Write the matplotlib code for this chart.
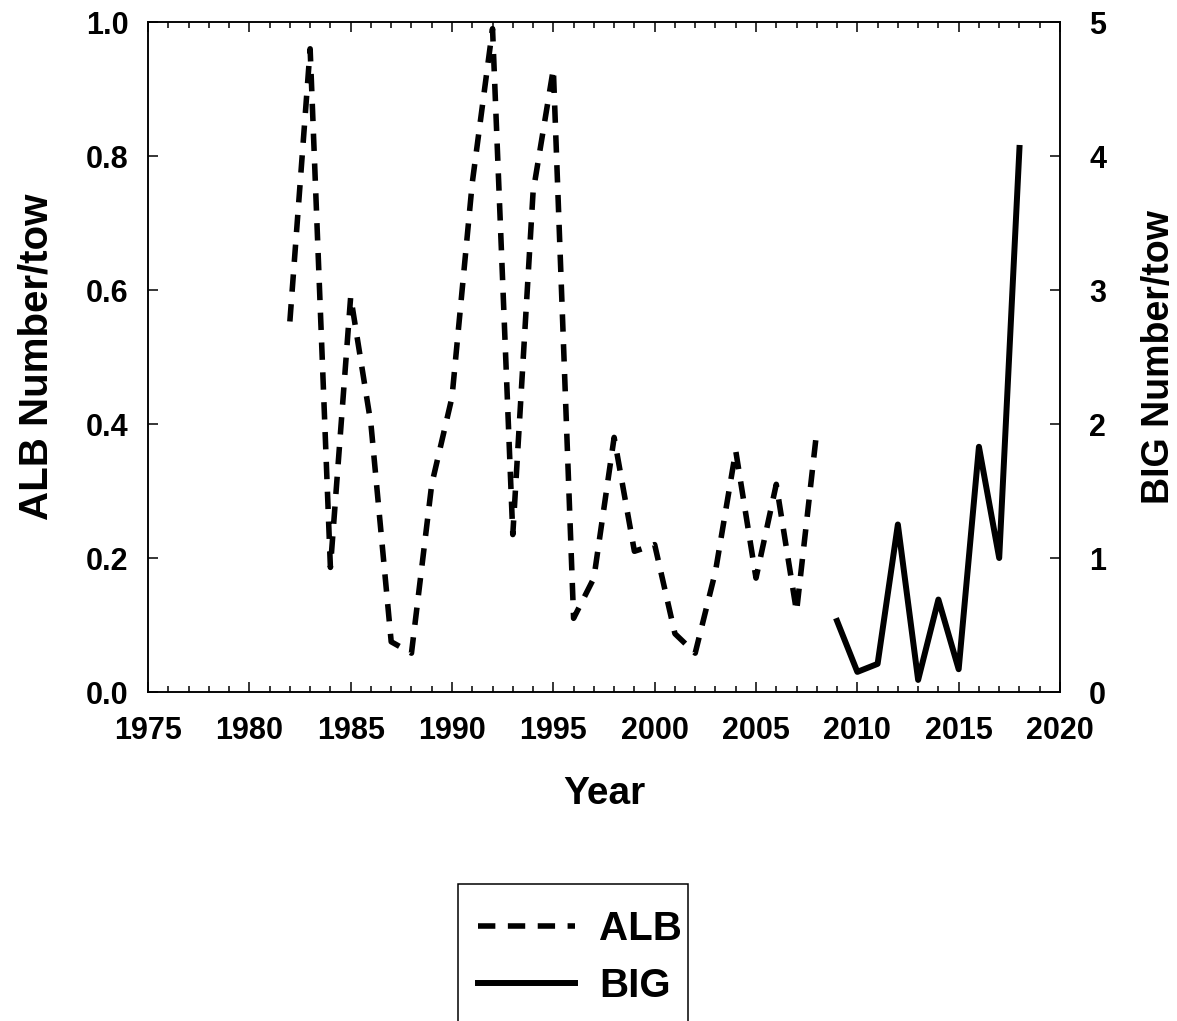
import numpy as np
import matplotlib
matplotlib.use("Agg")
import matplotlib.pyplot as plt
from matplotlib.ticker import MultipleLocator
from matplotlib.patches import Rectangle

plt.rcParams['font.family'] = ['Liberation Sans', 'DejaVu Sans']
plt.rcParams['font.weight'] = 'bold'
plt.rcParams['axes.labelweight'] = 'bold'
plt.rcParams['lines.scale_dashes'] = False

# ALB series (left axis)
alb_years = np.arange(1982, 2009)
alb_vals = [0.553, 0.96, 0.186, 0.59, 0.40, 0.075, 0.058, 0.31, 0.44, 0.76,
            0.99, 0.235, 0.746, 0.93, 0.11, 0.17, 0.38, 0.21, 0.22, 0.087,
            0.058, 0.18, 0.36, 0.17, 0.31, 0.12, 0.39]

# BIG series (right axis)
big_years = np.arange(2009, 2019)
big_vals = [0.53, 0.15, 0.21, 1.25, 0.09, 0.69, 0.17, 1.83, 1.0, 4.06]

x_ticks = [1975, 1980, 1985, 1990, 1995, 2000, 2005, 2010, 2015, 2020]
left_ticks = [0.0, 0.2, 0.4, 0.6, 0.8, 1.0]
right_ticks = [0, 1, 2, 3, 4, 5]

W, H = 1177, 1021
fig = plt.figure(figsize=(W/100, H/100), dpi=100)
ax = fig.add_axes([148/W, 1-692/H, 912/W, 670/H])
ax2 = ax.twinx()

l1, = ax.plot(alb_years, alb_vals, color='black', lw=4.0, dashes=(12.5, 9.0),
              dash_capstyle='butt', label='ALB')
l2, = ax2.plot(big_years, big_vals, color='black', lw=4.3, label='BIG')

ax.set_xlim(1975, 2020)
ax.set_ylim(0, 1.0)
ax2.set_ylim(0, 5)
ax.set_xticks(x_ticks)
ax.set_yticks(left_ticks)
ax.set_yticklabels([f'{v:.1f}' for v in left_ticks])
ax2.set_yticks(right_ticks)
ax.xaxis.set_minor_locator(MultipleLocator(1))

for s in list(ax.spines.values()) + list(ax2.spines.values()):
    s.set_linewidth(1.1)

ax.tick_params(axis='x', which='major', direction='in', length=7, width=1.1,
               top=True, labelsize=22, pad=17)
ax.tick_params(axis='x', which='minor', direction='in', length=4.5, width=1.1, top=True)
ax.tick_params(axis='y', which='major', direction='in', length=7, width=1.1,
               right=False, labelsize=22, pad=14)
ax2.tick_params(axis='y', direction='in', length=7, width=1.1, labelsize=22, pad=21)

ax.set_xlabel('Year', fontsize=28, fontweight='bold', labelpad=22)
ax.set_ylabel('ALB Number/tow', fontsize=29, fontweight='bold', labelpad=22)
ax2.set_ylabel('BIG Number/tow', fontsize=27, fontweight='bold', labelpad=25)

# legend box, running off the bottom of the figure like the original
fig.patches.append(Rectangle((458/W, -0.05), (688-458)/W, 0.05 + 1-884/H,
                             transform=fig.transFigure, fill=False,
                             edgecolor='black', lw=1.1))
leg = fig.legend(handles=[l1, l2], loc='upper left',
                 bbox_to_anchor=(458/W, 1-890/H), borderaxespad=0,
                 fontsize=29, frameon=False, handlelength=2.4,
                 handletextpad=0.6, labelspacing=0.47, borderpad=0.5)

fig.savefig('out.png', dpi=100)
